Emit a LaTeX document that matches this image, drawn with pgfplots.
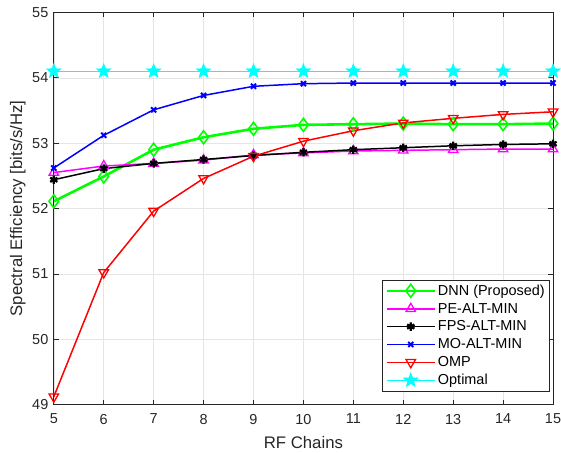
\documentclass[border=0pt]{standalone}
\usepackage{pgfplots}
\pgfplotsset{compat=1.18}
\usepackage{fontspec}
\setmainfont{Liberation Sans}
\usetikzlibrary{plotmarks}
\definecolor{axgray}{RGB}{38,38,38}
\definecolor{mgreen}{RGB}{0,255,0}
\definecolor{mmag}{RGB}{255,0,255}
\definecolor{mblue}{RGB}{0,0,255}
\definecolor{mred}{RGB}{255,0,0}
\definecolor{mcyan}{RGB}{0,255,255}
\pgfdeclareplotmark{pentagram}{%
  \pgfpathmoveto{\pgfqpointpolar{90}{\pgfplotmarksize}}%
  \pgfpathlineto{\pgfqpointpolar{126}{0.42\pgfplotmarksize}}%
  \pgfpathlineto{\pgfqpointpolar{162}{\pgfplotmarksize}}%
  \pgfpathlineto{\pgfqpointpolar{198}{0.42\pgfplotmarksize}}%
  \pgfpathlineto{\pgfqpointpolar{234}{\pgfplotmarksize}}%
  \pgfpathlineto{\pgfqpointpolar{270}{0.42\pgfplotmarksize}}%
  \pgfpathlineto{\pgfqpointpolar{306}{\pgfplotmarksize}}%
  \pgfpathlineto{\pgfqpointpolar{342}{0.42\pgfplotmarksize}}%
  \pgfpathlineto{\pgfqpointpolar{18}{\pgfplotmarksize}}%
  \pgfpathlineto{\pgfqpointpolar{54}{0.42\pgfplotmarksize}}%
  \pgfpathclose
  \pgfusepathqfillstroke}
\begin{document}
\begin{tikzpicture}[x=1pt,y=1pt]
\path[use as bounding box] (-54pt,-48pt) rectangle (509pt,406pt);
\begin{axis}[
  at={(0pt,0pt)}, anchor=south west,
  scale only axis, width=501pt, height=393.5pt,
  xmin=5, xmax=15, ymin=49, ymax=55,
  xtick={5,...,15}, ytick={49,...,55},
  grid=major,
  major grid style={draw=black!10, line width=0.6pt},
  axis line style={draw=axgray, line width=0.7pt},
  tick style={draw=axgray, line width=0.7pt},
  tick align=inside,
  major tick length=5pt,
  /pgf/number format/assume math mode=true,
  ticklabel style={font=\fontsize{14.5}{16}\selectfont, text=axgray},
  xticklabel style={yshift=-6pt},
  yticklabel style={xshift=-2pt},
  xlabel={RF Chains},
  ylabel={Spectral Efficiency [bits/s/Hz]},
  label style={font=\fontsize{16.8}{18}\selectfont, text=axgray},
  xlabel style={at={(axis description cs:0.5,-0.112)}, anchor=base},
  ylabel style={at={(axis description cs:-0.072,0.5)}, anchor=center, rotate=0},
  legend style={at={(0.994,0.033)}, anchor=south east,
    font=\fontsize{14.5}{17}\selectfont, draw=axgray, line width=0.6pt,
    inner sep=3pt, row sep=2.3pt, cells={anchor=west}},
  legend image code/.code={\draw[mark repeat=2,mark phase=2] plot coordinates {(0pt,0pt) (24pt,0pt) (48pt,0pt)};},
]
\addplot[color=mgreen, line width=2.6pt, mark=diamond, mark size=6.5pt, mark options={line width=1.6pt, solid}]
coordinates {(5,52.11) (6,52.49) (7,52.90) (8,53.09) (9,53.22) (10,53.28) (11,53.29) (12,53.30) (13,53.29) (14,53.29) (15,53.30)};
\addlegendentry{DNN (Proposed)}
\addplot[color=mmag, line width=1.5pt, mark=triangle, mark size=5.5pt, mark options={line width=1.3pt}]
coordinates {(5,52.55) (6,52.65) (7,52.69) (8,52.74) (9,52.82) (10,52.85) (11,52.88) (12,52.89) (13,52.90) (14,52.91) (15,52.91)};
\addlegendentry{PE-ALT-MIN}
\addplot[color=black, line width=1.5pt, mark=asterisk, mark size=4.2pt, mark options={line width=2.3pt}]
coordinates {(5,52.44) (6,52.61) (7,52.69) (8,52.75) (9,52.81) (10,52.86) (11,52.90) (12,52.93) (13,52.96) (14,52.98) (15,52.99)};
\addlegendentry{FPS-ALT-MIN}
\addplot[color=mblue, line width=1.5pt, mark=x, mark size=3.6pt, mark options={line width=2pt}]
coordinates {(5,52.62) (6,53.12) (7,53.51) (8,53.73) (9,53.87) (10,53.91) (11,53.92) (12,53.92) (13,53.92) (14,53.92) (15,53.92)};
\addlegendentry{MO-ALT-MIN}
\addplot[color=mred, line width=1.5pt, mark=triangle, mark size=5.5pt, mark options={rotate=180, line width=1.3pt}]
coordinates {(5,49.12) (6,51.02) (7,51.96) (8,52.46) (9,52.80) (10,53.03) (11,53.19) (12,53.31) (13,53.38) (14,53.44) (15,53.48)};
\addlegendentry{OMP}
\addplot[color=mcyan, line width=1.5pt, mark=pentagram, mark size=7.5pt, mark options={line width=0.6pt, fill=mcyan}]
coordinates {(5,54.10) (6,54.10) (7,54.10) (8,54.10) (9,54.10) (10,54.10) (11,54.10) (12,54.10) (13,54.10) (14,54.10) (15,54.10)};
\addlegendentry{Optimal}
\end{axis}
\end{tikzpicture}
\end{document}
